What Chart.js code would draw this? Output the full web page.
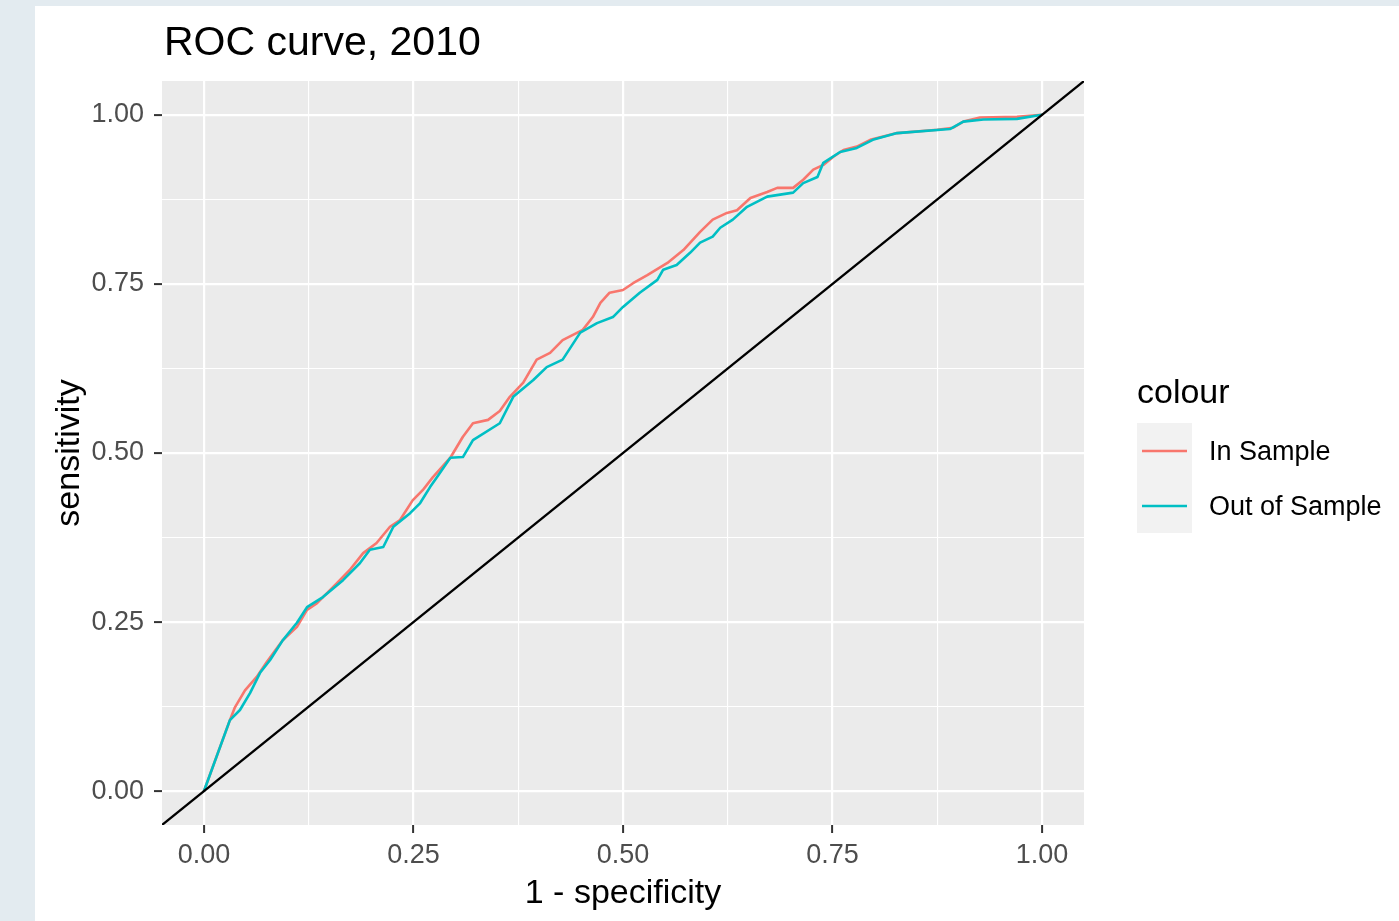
<!DOCTYPE html>
<html>
<head>
<meta charset="utf-8">
<script src="https://cdn.jsdelivr.net/npm/chart.js@4.4.1/dist/chart.umd.min.js"></script>
<style>
    body { margin: 0; background: #e3ebf0; }
    #card { position: absolute; left: 35px; top: 6px; right: 0; bottom: 0; background: #fff; }
    #rocChart { position: absolute; left: 0; top: 0; }
</style>
</head>
<body>
<div id="card"></div>
<canvas id="rocChart" width="1399" height="921"></canvas>
<script>
const $ = id => document.getElementById(id);

const chartTitle = 'ROC curve, 2010';
const legendTitle = 'colour';
const seriesNames = ['In Sample', 'Out of Sample'];
const seriesColors = ['#F8766D', '#00BFC4'];

// 1 - specificity / sensitivity
const inSampleFpr = [0, 0.031, 0.037, 0.049, 0.063, 0.075, 0.094, 0.111, 0.123, 0.135, 0.159, 0.174, 0.190, 0.206, 0.222, 0.234,
    0.249, 0.261, 0.273, 0.294, 0.309, 0.321, 0.339, 0.353, 0.365, 0.381, 0.397, 0.413, 0.428, 0.452, 0.464, 0.473, 0.484,
    0.500, 0.512, 0.529, 0.553, 0.572, 0.592, 0.607, 0.624, 0.636, 0.652, 0.672, 0.684, 0.703, 0.715, 0.727, 0.739, 0.751,
    0.763, 0.779, 0.795, 0.827, 0.875, 0.894, 0.906, 0.926, 0.970, 1];
const inSampleTpr = [0, 0.105, 0.124, 0.149, 0.169, 0.191, 0.223, 0.243, 0.268, 0.278, 0.308, 0.327, 0.352, 0.367, 0.391, 0.401,
    0.430, 0.445, 0.464, 0.493, 0.524, 0.544, 0.549, 0.562, 0.583, 0.604, 0.638, 0.648, 0.667, 0.682, 0.701, 0.722, 0.737,
    0.741, 0.751, 0.763, 0.781, 0.800, 0.827, 0.845, 0.855, 0.859, 0.877, 0.886, 0.892, 0.892, 0.904, 0.919, 0.926, 0.938,
    0.948, 0.953, 0.963, 0.973, 0.978, 0.981, 0.990, 0.996, 0.997, 1];

const outSampleFpr = [0, 0.031, 0.043, 0.055, 0.067, 0.079, 0.094, 0.111, 0.123, 0.142, 0.166, 0.186, 0.198, 0.214, 0.226, 0.246,
    0.258, 0.270, 0.278, 0.294, 0.309, 0.321, 0.353, 0.369, 0.393, 0.409, 0.428, 0.449, 0.469, 0.488, 0.500, 0.520, 0.541,
    0.548, 0.564, 0.580, 0.592, 0.607, 0.616, 0.631, 0.648, 0.672, 0.703, 0.715, 0.732, 0.739, 0.759, 0.779, 0.798, 0.827,
    0.890, 0.906, 0.930, 0.970, 1];
const outSampleTpr = [0, 0.105, 0.120, 0.145, 0.175, 0.194, 0.223, 0.249, 0.272, 0.287, 0.312, 0.337, 0.357, 0.361, 0.391, 0.411,
    0.426, 0.450, 0.464, 0.493, 0.494, 0.519, 0.544, 0.583, 0.608, 0.627, 0.638, 0.678, 0.692, 0.701, 0.716, 0.737, 0.756,
    0.771, 0.778, 0.796, 0.811, 0.820, 0.833, 0.845, 0.864, 0.879, 0.885, 0.899, 0.908, 0.929, 0.945, 0.951, 0.963, 0.973,
    0.979, 0.990, 0.993, 0.994, 1];

// reference line y = x, across the whole panel
const diagonal = [-0.05, 1.05];

const axisMin = -0.05;
const axisMax = 1.05;
const majorTicks = [0, 0.25, 0.5, 0.75, 1];
const minorTicks = [0.125, 0.375, 0.625, 0.875];
const tickLabels = ['0.00', '0.25', '0.50', '0.75', '1.00'];

const FONT = '"Liberation Sans", Arial, sans-serif';
const toPoints = (xs, ys) => xs.map((x, i) => ({x: x, y: ys[i]}));
const isMajor = v => majorTicks.some(m => Math.abs(m - v) < 1e-9);

const allTicks = scale => {
    scale.ticks = majorTicks.concat(minorTicks).sort((a, b) => a - b).map(v => ({value: v}));
};

const gridOpts = {
    color: '#ffffff',
    lineWidth: ctx => ctx.tick && isMajor(ctx.tick.value) ? 2.2 : 1.1,
    tickColor: ctx => ctx.tick && isMajor(ctx.tick.value) ? '#333333' : 'rgba(0,0,0,0)',
    tickLength: 8,
    tickWidth: 2,
    drawTicks: true
};

const tickOpts = pad => ({
    autoSkip: false,
    maxRotation: 0,
    padding: pad,
    color: '#4D4D4D',
    font: {family: FONT, size: 27},
    callback: v => {
        const i = majorTicks.findIndex(m => Math.abs(m - v) < 1e-9);
        return i >= 0 ? tickLabels[i] : '';
    }
});

// grey panel behind the grid
const panelBg = {
    id: 'panelBg',
    beforeDraw(chart) {
        const {ctx, chartArea: a} = chart;
        ctx.save();
        ctx.fillStyle = '#EBEBEB';
        ctx.fillRect(a.left, a.top, a.right - a.left, a.bottom - a.top);
        ctx.restore();
    }
};

// title at the panel's left edge and a ggplot style legend on the right
const decorations = {
    id: 'decorations',
    afterDraw(chart) {
        const {ctx, chartArea: a} = chart;
        ctx.save();
        ctx.fillStyle = '#000';
        ctx.textBaseline = 'alphabetic';
        ctx.textAlign = 'left';
        ctx.font = `41px ${FONT}`;
        ctx.fillText(chartTitle, a.left + 2, 55);

        const lx = a.right + 53;
        ctx.font = `34px ${FONT}`;
        ctx.fillText(legendTitle, lx, 403);

        const items = chart.data.datasets.filter(d => d.label);
        items.forEach((d, i) => {
            const top = 423 + i * 55;
            ctx.fillStyle = '#F2F2F2';
            ctx.fillRect(lx, top, 55, 55);
            ctx.strokeStyle = d.borderColor;
            ctx.lineWidth = 2.6;
            ctx.beginPath();
            ctx.moveTo(lx + 5, top + 28);
            ctx.lineTo(lx + 50, top + 28);
            ctx.stroke();
            ctx.fillStyle = '#000';
            ctx.textBaseline = 'middle';
            ctx.font = `27px ${FONT}`;
            ctx.fillText(d.label, lx + 72, top + 30);
        });
        ctx.restore();
    }
};

window.onload = () => {
    new Chart($('rocChart').getContext('2d'), {
        type: 'line',
        data: {
            datasets: [
                {
                    label: seriesNames[0],
                    data: toPoints(inSampleFpr, inSampleTpr),
                    borderColor: seriesColors[0],
                    borderWidth: 2.6,
                    order: 2
                },
                {
                    label: seriesNames[1],
                    data: toPoints(outSampleFpr, outSampleTpr),
                    borderColor: seriesColors[1],
                    borderWidth: 2.6,
                    order: 1
                },
                {
                    label: '',
                    data: toPoints(diagonal, diagonal),
                    borderColor: '#000000',
                    borderWidth: 2.3,
                    order: 0
                }
            ]
        },
        options: {
            responsive: false,
            animation: false,
            events: [],
            elements: {
                point: {radius: 0},
                line: {tension: 0, fill: false, borderJoinStyle: 'round'}
            },
            layout: {padding: {left: 0, top: 81, right: 315, bottom: 0}},
            plugins: {
                legend: {display: false},
                title: {display: false},
                tooltip: {enabled: false}
            },
            scales: {
                x: {
                    type: 'linear',
                    min: axisMin,
                    max: axisMax,
                    afterBuildTicks: allTicks,
                    afterFit: s => { s.height = 96; },
                    grid: gridOpts,
                    border: {display: false},
                    ticks: tickOpts(6),
                    title: {
                        display: true,
                        text: '1 - specificity',
                        color: '#000',
                        font: {family: FONT, size: 34},
                        padding: {top: 0, bottom: 7}
                    }
                },
                y: {
                    type: 'linear',
                    min: axisMin,
                    max: axisMax,
                    afterBuildTicks: allTicks,
                    afterFit: s => { s.width = 162; },
                    grid: gridOpts,
                    border: {display: false},
                    ticks: tickOpts(10),
                    title: {
                        display: true,
                        text: 'sensitivity',
                        color: '#000',
                        font: {family: FONT, size: 34},
                        padding: {top: 49, bottom: 0}
                    }
                }
            }
        },
        plugins: [panelBg, decorations]
    });
};
</script>
</body>
</html>
